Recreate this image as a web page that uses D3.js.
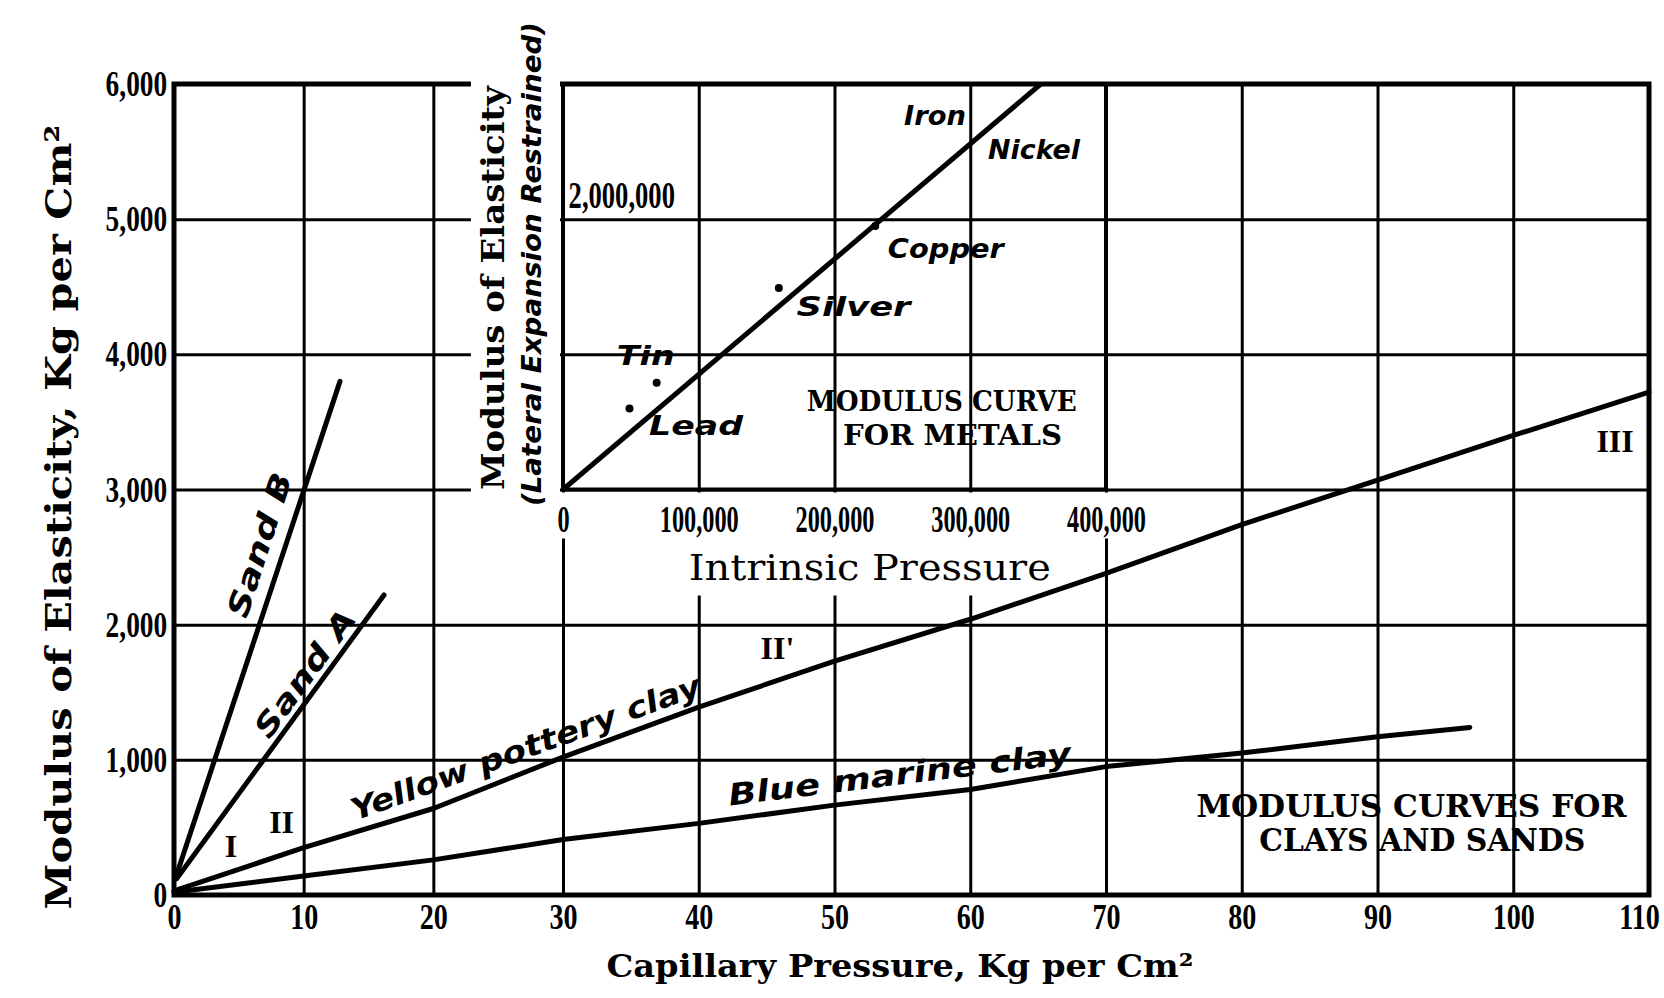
<!DOCTYPE html>
<html>
<head>
<meta charset="utf-8">
<script src="https://cdn.jsdelivr.net/npm/d3@7"></script>
<style>
  body { margin: 0; background: #fff; }
  svg { display: block; }
</style>
</head>
<body>
<div id="chart"></div>
<script>
// ---- main chart: capillary pressure vs modulus (clays and sands)
var xTicks = [0, 10, 20, 30, 40, 50, 60, 70, 80, 90, 100, 110];
var yTicks = [0, 1000, 2000, 3000, 4000, 5000, 6000];
var yTickLabels = ["0", "1,000", "2,000", "3,000", "4,000", "5,000", "6,000"];

var sandBX = [0.2, 12.8];
var sandBY = [150, 3800];
var sandAX = [0.2, 16.2];
var sandAY = [120, 2220];
var yellowClayX = [0, 10, 20, 30, 40, 50, 60, 70, 80, 90, 100, 110];
var yellowClayY = [30, 350, 640, 1020, 1390, 1730, 2040, 2380, 2740, 3070, 3400, 3720];
var blueClayX = [0, 10, 20, 30, 40, 50, 60, 70, 80, 90, 96.8];
var blueClayY = [20, 140, 260, 410, 530, 665, 780, 950, 1050, 1170, 1240];

// ---- inset: intrinsic pressure vs modulus (metals)
var insetXTicks = [0, 100000, 200000, 300000, 400000];
var insetXTickLabels = ["0", "100,000", "200,000", "300,000", "400,000"];
var insetYTicks = [2000000];
var insetYTickLabels = ["2,000,000"];
var metalLineX = [0, 352000];
var metalLineY = [0, 3000000];
var metalNames = ["Lead", "Tin", "Silver", "Copper"];
var metalX = [49000, 69000, 159000, 230000];
var metalY = [600000, 790000, 1490000, 1950000];

// text notes (data coords)
var mainNotes = [
  { text: "Sand B", x: 6.6, y: 2590, angle: -72, len: 150, size: 30, style: "hand" },
  { text: "Sand A", x: 10.1, y: 1640, angle: -54, len: 150, size: 30, style: "hand" },
  { text: "Yellow pottery clay", x: 27.1, y: 1090, angle: -20, len: 370, size: 30, style: "hand" },
  { text: "Blue marine clay", x: 54.8, y: 895, angle: -7, len: 345, size: 30, style: "hand" },
  { text: "I", x: 4.4, y: 360, angle: 0, len: 0, size: 32, style: "roman" },
  { text: "II", x: 8.3, y: 540, angle: 0, len: 0, size: 32, style: "roman" },
  { text: "II'", x: 45.8, y: 1830, angle: 0, len: 0, size: 32, style: "roman" },
  { text: "III", x: 107.5, y: 3360, angle: 0, len: 0, size: 32, style: "roman" },
  { text: "MODULUS CURVES FOR", x: 92.5, y: 660, angle: 0, len: 430, size: 31, style: "caps" },
  { text: "CLAYS AND SANDS", x: 93.3, y: 405, angle: 0, len: 326, size: 31, style: "caps" }
];
var insetNotes = [
  { text: "Iron", x: 274000, y: 2760000, len: 62, size: 26, style: "hand" },
  { text: "Nickel", x: 347000, y: 2510000, len: 92, size: 26, style: "hand" },
  { text: "Copper", x: 282000, y: 1780000, len: 116, size: 26, style: "hand" },
  { text: "Silver", x: 214000, y: 1350000, len: 114, size: 26, style: "hand" },
  { text: "Tin", x: 61000, y: 990000, len: 58, size: 26, style: "hand" },
  { text: "Lead", x: 98000, y: 470000, len: 94, size: 26, style: "hand" },
  { text: "MODULUS CURVE", x: 279000, y: 650000, len: 270, size: 28, style: "caps" },
  { text: "FOR METALS", x: 287000, y: 400000, len: 219, size: 28, style: "caps" }
];

var width = 1664, height = 998;

var svg = d3.select("#chart")
  .append("svg")
  .attr("width", width)
  .attr("height", height);

// the scanned paper is slightly squeezed at the left, hence 3 stops
var x = d3.scaleLinear().domain([0, 30, 110]).range([174, 563, 1649]);
var y = d3.scaleLinear().domain([0, 6000]).range([895, 84]);
var ix = d3.scaleLinear().domain([0, 400000]).range([x(30), x(70)]);
var iy = d3.scaleLinear().domain([0, 3000000]).range([y(3000), y(6000)]);

var tickFont = "'Liberation Serif', 'DejaVu Serif', serif";

// grid + tick labels
var xAxis = svg.append("g")
  .attr("transform", "translate(0," + y(0) + ")")
  .call(d3.axisBottom(x)
    .tickValues(xTicks)
    .tickSize(-(y(0) - y(6000)))
    .tickPadding(8)
    .tickFormat(d3.format("d")));

var yAxis = svg.append("g")
  .attr("transform", "translate(" + x(0) + ",0)")
  .call(d3.axisLeft(y)
    .tickValues(yTicks)
    .tickSize(-(x(110) - x(0)))
    .tickPadding(9)
    .tickFormat(function (d, i) { return yTickLabels[i]; }));

[xAxis, yAxis].forEach(function (ax) {
  ax.select(".domain").remove();
  ax.selectAll(".tick line").attr("stroke", "#000").attr("stroke-width", 3);
  ax.selectAll(".tick text")
    .attr("fill", "#000")
    .style("font-family", tickFont)
    .style("font-weight", "bold")
    .style("font-size", "36px");
});
xAxis.selectAll(".tick text")
  .attr("transform", function (d) { return d === 110 ? "translate(-10,0) scale(0.78,1)" : "scale(0.78,1)"; });
yAxis.selectAll(".tick text").attr("transform", "scale(0.76,1)");

// outer frame
svg.append("rect")
  .attr("x", x(0)).attr("y", y(6000))
  .attr("width", x(110) - x(0)).attr("height", y(0) - y(6000))
  .attr("fill", "none").attr("stroke", "#000").attr("stroke-width", 5);

// white areas where the inset text sits on the paper
var masks = svg.append("g");
masks.append("rect")
  .attr("x", x(22.9)).attr("y", 10)
  .attr("width", ix(0) - 3 - x(22.9)).attr("height", iy(0) + 3 - 10)
  .attr("fill", "#fff");
masks.append("rect")
  .attr("x", ix(0) - 16).attr("y", iy(0) + 3)
  .attr("width", x(73.9) - ix(0) + 16).attr("height", 46)
  .attr("fill", "#fff");

// inset frame
svg.append("rect")
  .attr("x", ix(0)).attr("y", iy(3000000))
  .attr("width", ix(400000) - ix(0)).attr("height", iy(0) - iy(3000000))
  .attr("fill", "none").attr("stroke", "#000").attr("stroke-width", 4);

// inset tick labels
var ixAxis = svg.append("g")
  .attr("transform", "translate(0," + iy(0) + ")")
  .call(d3.axisBottom(ix)
    .tickValues(insetXTicks)
    .tickSize(0)
    .tickPadding(16)
    .tickFormat(function (d, i) { return insetXTickLabels[i]; }));
var iyAxis = svg.append("g")
  .attr("transform", "translate(" + ix(0) + ",0)")
  .call(d3.axisRight(iy)
    .tickValues(insetYTicks)
    .tickSize(0)
    .tickPadding(8)
    .tickFormat(function (d, i) { return insetYTickLabels[i]; }));
[ixAxis, iyAxis].forEach(function (ax) {
  ax.select(".domain").remove();
  ax.selectAll(".tick text")
    .attr("fill", "#000")
    .style("font-family", tickFont)
    .style("font-weight", "bold")
    .style("font-size", "38px");
});
ixAxis.selectAll(".tick text").attr("transform", "scale(0.64,1)");
iyAxis.selectAll(".tick text").attr("dy", null).attr("y", -12).attr("transform", "scale(0.7,1)");

// intrinsic pressure title, with a white patch in the mask group
var ipTitle = svg.append("text")
  .attr("x", ix(226000)).attr("y", iy(0) + 78)
  .attr("text-anchor", "middle").attr("dominant-baseline", "central")
  .attr("textLength", 362).attr("lengthAdjust", "spacingAndGlyphs")
  .style("font-family", "'DejaVu Serif', serif")
  .style("font-size", "35px")
  .text("Intrinsic Pressure");
var bb = ipTitle.node().getBBox();
masks.append("rect")
  .attr("x", bb.x - 14).attr("y", iy(0) + 45)
  .attr("width", bb.width + 28).attr("height", bb.y + bb.height + 8 - iy(0) - 45)
  .attr("fill", "#fff");

// data lines
var line = d3.line()
  .x(function (d) { return x(d[0]); })
  .y(function (d) { return y(d[1]); });

var series = [
  d3.zip(sandBX, sandBY),
  d3.zip(sandAX, sandAY),
  d3.zip(yellowClayX, yellowClayY),
  d3.zip(blueClayX, blueClayY)
];

svg.append("g")
  .selectAll("path")
  .data(series)
  .enter()
  .append("path")
  .attr("d", line)
  .attr("fill", "none")
  .attr("stroke", "#000")
  .attr("stroke-width", 5)
  .attr("stroke-linecap", "round")
  .attr("stroke-linejoin", "round");

var metalLine = d3.line()
  .x(function (d) { return ix(d[0]); })
  .y(function (d) { return iy(d[1]); });

svg.append("path")
  .datum(d3.zip(metalLineX, metalLineY))
  .attr("d", metalLine)
  .attr("fill", "none")
  .attr("stroke", "#000")
  .attr("stroke-width", 5);

svg.append("g")
  .selectAll("circle")
  .data(d3.zip(metalNames, metalX, metalY))
  .enter()
  .append("circle")
  .attr("cx", function (d) { return ix(d[1]); })
  .attr("cy", function (d) { return iy(d[2]); })
  .attr("r", 4)
  .attr("fill", "#000");

// notes
var fonts = {
  hand: { family: "'DejaVu Sans', sans-serif", style: "italic", weight: "bold" },
  roman: { family: "'Liberation Serif', serif", style: "normal", weight: "bold" },
  caps: { family: "'DejaVu Serif', serif", style: "normal", weight: "bold" }
};

function drawNotes(notes, sx, sy) {
  var t = svg.append("g")
    .selectAll("text")
    .data(notes)
    .enter()
    .append("text")
    .attr("transform", function (d) {
      return "translate(" + sx(d.x) + "," + sy(d.y) + ") rotate(" + (d.angle || 0) + ")";
    })
    .attr("text-anchor", "middle")
    .attr("dominant-baseline", "central")
    .style("font-family", function (d) { return fonts[d.style].family; })
    .style("font-style", function (d) { return fonts[d.style].style; })
    .style("font-weight", function (d) { return fonts[d.style].weight; })
    .style("font-size", function (d) { return d.size + "px"; })
    .text(function (d) { return d.text; });
  t.filter(function (d) { return d.len > 0; })
    .attr("textLength", function (d) { return d.len; })
    .attr("lengthAdjust", "spacingAndGlyphs");
}

drawNotes(mainNotes, x, y);
drawNotes(insetNotes, ix, iy);

// axis titles
svg.append("text")
  .attr("transform", "translate(58,517) rotate(-90)")
  .attr("text-anchor", "middle").attr("dominant-baseline", "central")
  .attr("textLength", 785).attr("lengthAdjust", "spacingAndGlyphs")
  .style("font-family", "'DejaVu Serif', serif")
  .style("font-weight", "bold")
  .style("font-size", "36px")
  .text("Modulus of Elasticity, Kg per Cm²");

svg.append("text")
  .attr("x", 900).attr("y", 966)
  .attr("text-anchor", "middle").attr("dominant-baseline", "central")
  .attr("textLength", 587).attr("lengthAdjust", "spacingAndGlyphs")
  .style("font-family", "'DejaVu Serif', serif")
  .style("font-weight", "bold")
  .style("font-size", "31px")
  .text("Capillary Pressure, Kg per Cm²");

svg.append("text")
  .attr("transform", "translate(493,288) rotate(-90)")
  .attr("text-anchor", "middle").attr("dominant-baseline", "central")
  .attr("textLength", 404).attr("lengthAdjust", "spacingAndGlyphs")
  .style("font-family", "'DejaVu Serif', serif")
  .style("font-weight", "bold")
  .style("font-size", "32px")
  .text("Modulus of Elasticity");

svg.append("text")
  .attr("transform", "translate(531,264) rotate(-90)")
  .attr("text-anchor", "middle").attr("dominant-baseline", "central")
  .attr("textLength", 484).attr("lengthAdjust", "spacingAndGlyphs")
  .style("font-family", "'DejaVu Sans', sans-serif")
  .style("font-style", "italic")
  .style("font-weight", "bold")
  .style("font-size", "27px")
  .text("(Lateral Expansion Restrained)");
</script>
</body>
</html>
